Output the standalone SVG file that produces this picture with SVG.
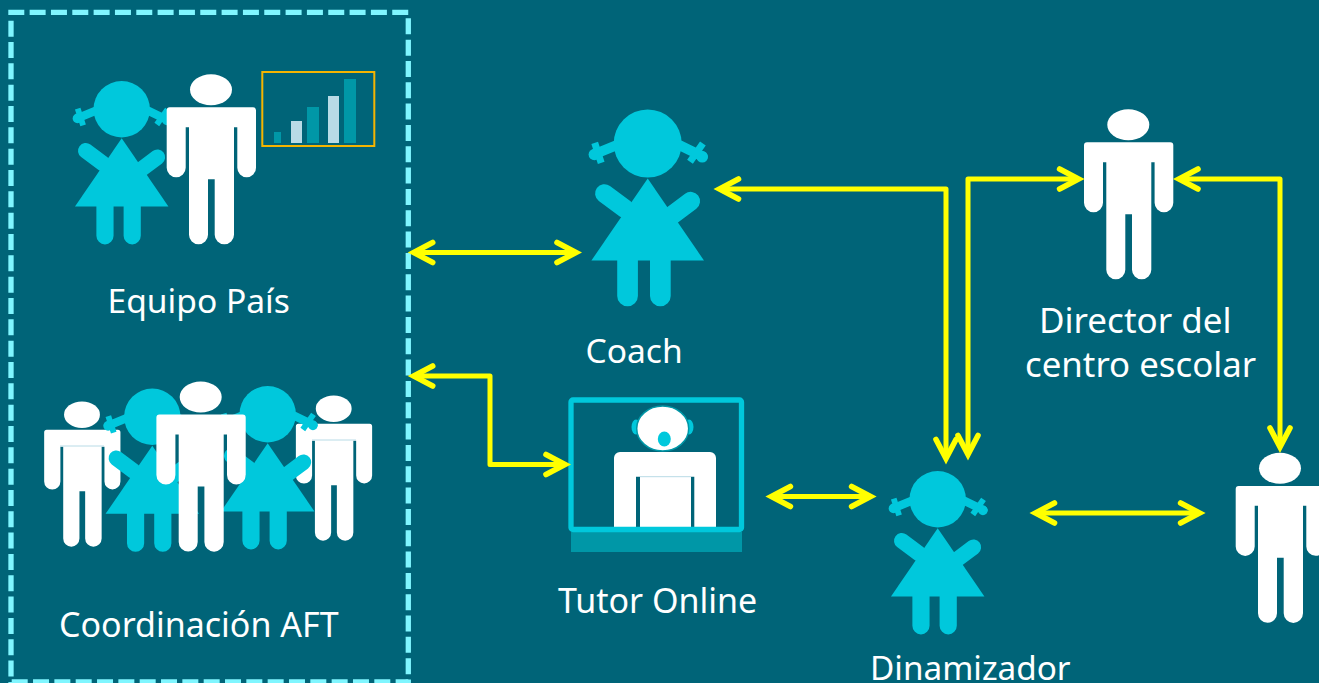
<svg xmlns="http://www.w3.org/2000/svg" xmlns:xlink="http://www.w3.org/1999/xlink" width="1319" height="683" viewBox="0 0 1319 683">
<style>
.label{font-family:"Noto Sans","Open Sans",sans-serif;font-size:33.6px;fill:#fff}
.lg{font-size:35px}
.dash{fill:none;stroke:#80f6ff;stroke-width:5.3;stroke-dasharray:16 5.33}
.conn{fill:none;stroke:#ffff00;stroke-width:5;stroke-linejoin:round;marker-start:url(#head);marker-end:url(#head)}
.cyan{fill:#00c8dc}
.dark{fill:#0097a7}
.light{fill:#b8dbe6}
.white{fill:#fff}
.seam{stroke:#b8dbe6;stroke-width:1;fill:none}
</style>
<defs>
<marker id="head" markerUnits="userSpaceOnUse" viewBox="-30 -15 40 30" markerWidth="40" markerHeight="30" refX="0" refY="0" orient="auto-start-reverse">
<path d="M-19 -10L0 0L-19 10" fill="none" stroke="#ffff00" stroke-width="5.6" stroke-linecap="round" stroke-linejoin="miter" stroke-miterlimit="4"/>
</marker>
<g id="girl">
<g fill="none" stroke="#00c8dc">
<path d="M-31 1.7L-53 10.7M32 1.7L55 13" stroke-width="10" stroke-linecap="round"/>
<path d="M-53 -0.7L-46.5 19.3M55.2 0L42.3 18.3" stroke-width="7"/>
<path d="M-43.3 50L-22.7 65.3M43 57.7L22.3 73.3" stroke-width="18.7" stroke-linecap="round"/>
</g>
<circle cx="-53.3" cy="11" r="5.8" class="cyan"/>
<circle cx="54.5" cy="13.3" r="5.8" class="cyan"/>
<circle r="34" class="cyan"/>
<path d="M0 35L56.3 117H-56.3Z" class="cyan"/>
<path d="M-30.5 116H-9.8V152.4a10.35 10.35 0 0 1-20.7 0ZM2.3 116H23V152.4a10.35 10.35 0 0 1-20.7 0Z" class="cyan"/>
</g>
<g id="man">
<ellipse cy="0" rx="21" ry="15.5" class="white"/>
<path d="M-40 17.6H42a3 3 0 0 1 3 3V78.1a9.35 9.35 0 0 1-18.7 0V37.5H23V145a9.65 9.65 0 0 1-19.3 0V89.5H-3V145a9.5 9.5 0 0 1-19 0V37.5H-25.3V78.1a9.5 9.5 0 0 1-19 0V20.6a3 3 0 0 1 3-3Z" class="white"/>
</g>
</defs>
<rect width="1319" height="683" fill="#006478"/>
<g id="frame">
<path class="dash" d="M8.3 12.3H408.3"/>
<path class="dash" d="M408.3 18.3V683"/>
<path class="dash" d="M11 20.7V683"/>
<path class="dash" d="M11.7 682H408.3"/>
</g>
<g id="equipo-pais">
<use xlink:href="#girl" href="#girl" transform="translate(121.7 109.3) scale(.83)"/>
<use xlink:href="#man" href="#man" transform="translate(211 89.7)"/>
<rect x="262.3" y="72" width="112" height="74" fill="none" stroke="#f5b400" stroke-width="2"/>
<rect x="274" y="132" width="7" height="11" class="dark"/>
<rect x="291" y="121" width="11" height="22" class="light"/>
<rect x="307" y="107" width="12" height="36" class="dark"/>
<rect x="328" y="96" width="11" height="47" class="light"/>
<rect x="344" y="79" width="12" height="64" class="dark"/>
<text class="label" x="107.5" y="312.5">Equipo País</text>
</g>
<g id="coordinacion-aft">
<use xlink:href="#man" href="#man" transform="translate(82 414.7) scale(.854)"/>
<path class="seam" d="M60 446H104"/>
<use xlink:href="#man" href="#man" transform="translate(333.7 408.7) scale(.854)"/>
<path class="seam" d="M312 440H356"/>
<use xlink:href="#girl" href="#girl" transform="translate(152.3 416.7) scale(.83)"/>
<use xlink:href="#girl" href="#girl" transform="translate(267.7 414.3) scale(.83)"/>
<use xlink:href="#man" href="#man" transform="translate(200.7 397)"/>
<text class="label" x="59" y="636.5" style="font-size:34px">Coordinación AFT</text>
</g>
<g id="coach">
<use xlink:href="#girl" href="#girl" transform="translate(647.7 143.5)"/>
<text class="label" x="585.5" y="362.5">Coach</text>
</g>
<g id="tutor-online">
<rect x="571" y="532" width="171" height="20" class="dark"/>
<path class="white" d="M620 452H710a6 6 0 0 1 6 6V532H694.3V476.7H691V532H640V476.7H636V532H614V458a6 6 0 0 1 6-6Z"/>
<path class="seam" d="M640 476.7H691"/>
<ellipse cx="636" cy="427" rx="4.5" ry="7.5" class="cyan"/>
<ellipse cx="689" cy="427" rx="4.5" ry="7.5" class="cyan"/>
<ellipse cx="662.7" cy="428.5" rx="26" ry="22.5" fill="#fff" stroke="#0097a7" stroke-width="1.5"/>
<ellipse cx="664.3" cy="439" rx="6.5" ry="7.5" class="cyan"/>
<rect x="571" y="400" width="170.5" height="129.5" rx="2" fill="none" stroke="#00c8dc" stroke-width="5.3"/>
<text class="label" x="558" y="612.5" style="font-size:34px">Tutor Online</text>
</g>
<g id="director">
<use xlink:href="#man" href="#man" transform="translate(1128.3 124.7)"/>
<text class="label lg" x="1039" y="333">Director del</text>
<text class="label lg" x="1025" y="376.5" style="font-size:34.8px">centro escolar</text>
</g>
<g id="dinamizador">
<use xlink:href="#girl" href="#girl" transform="translate(937.7 499.3) scale(.83)"/>
<text class="label" x="870" y="680" style="font-size:33.3px">Dinamizador</text>
</g>
<g id="persona">
<use xlink:href="#man" href="#man" transform="translate(1280 468.3)"/>
</g>
<g id="connectors">
<path class="conn" d="M413.7 252.5H576"/>
<path class="conn" d="M413.7 376H490V464.5H565"/>
<path class="conn" d="M719.5 189H946V458.5"/>
<path class="conn" d="M1078.6 179H968V454.5"/>
<path class="conn" d="M1179 179H1280V447"/>
<path class="conn" d="M771.4 496.5H870.6"/>
<path class="conn" d="M1035.5 513H1199.6"/>
</g>
</svg>
